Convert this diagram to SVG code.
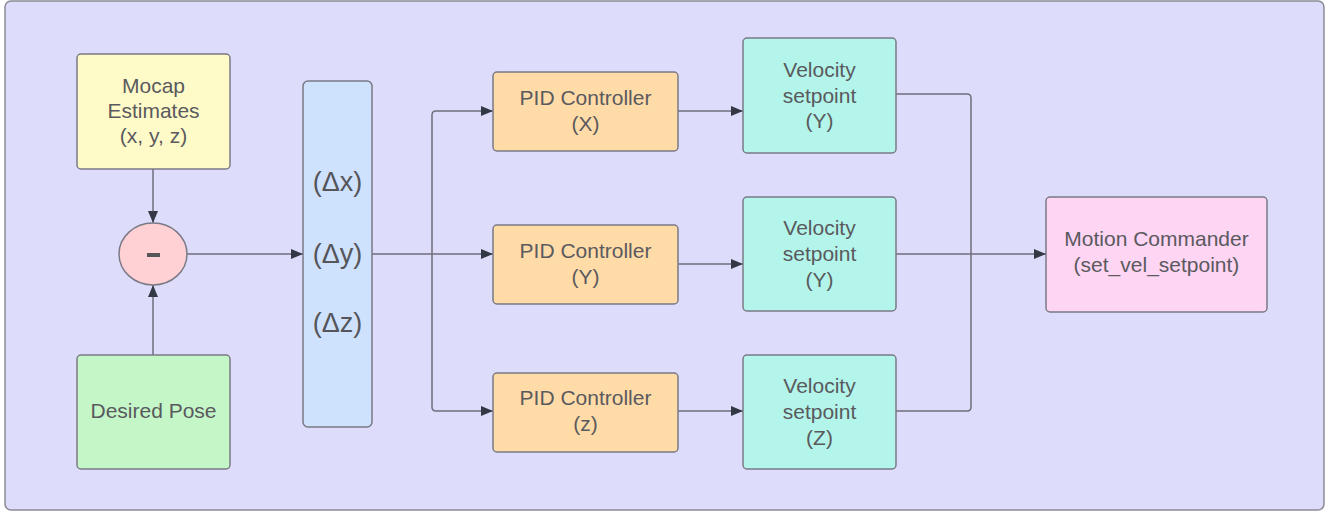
<svg xmlns="http://www.w3.org/2000/svg" width="1330" height="514" viewBox="0 0 1330 514">
  <defs>
    <marker id="arrow" viewBox="0 0 12 10" refX="12" refY="5" markerWidth="12" markerHeight="10" markerUnits="userSpaceOnUse" orient="auto">
      <path d="M0,0 L12,5 L0,10 Z" fill="#333845"/>
    </marker>
    <style>
      .box { stroke: #7a7a86; stroke-width: 1.5; }
      .lbl { font-family: "Liberation Sans", Arial, sans-serif; font-size: 21px; fill: #5a5a5e; text-anchor: middle; dominant-baseline: central; }
      .delta { font-family: "Liberation Sans", Arial, sans-serif; font-size: 27px; fill: #55555a; text-anchor: middle; dominant-baseline: central; }
      .conn { fill: none; stroke: #6e6e7c; stroke-width: 1.5; }
      .conn-a { fill: none; stroke: #6e6e7c; stroke-width: 1.5; marker-end: url(#arrow); }
    </style>
  </defs>

  <!-- background panel -->
  <rect x="5" y="1" width="1319" height="509" rx="6" fill="#dedcfb" stroke="#8a8a96" stroke-width="1.5"/>

  <!-- connectors -->
  <g id="connectors">
    <path class="conn-a" d="M153,169 L153,223"/>
    <path class="conn-a" d="M153,355 L153,285"/>
    <path class="conn-a" d="M187,254 L303,254"/>
    <path class="conn" d="M372,254 L432,254"/>
    <path class="conn-a" d="M432,254 L432,115 Q432,111 436,111 L493,111"/>
    <path class="conn-a" d="M432,254 L493,254"/>
    <path class="conn-a" d="M432,254 L432,407 Q432,411 436,411 L493,411"/>
    <path class="conn-a" d="M678,111 L743,111"/>
    <path class="conn-a" d="M678,264 L743,264"/>
    <path class="conn-a" d="M678,411 L743,411"/>
    <path class="conn" d="M896,94 L967,94 Q971,94 971,98 L971,254"/>
    <path class="conn" d="M896,254 L971,254"/>
    <path class="conn" d="M896,411 L967,411 Q971,411 971,407 L971,254"/>
    <path class="conn-a" d="M971,254 L1046,254"/>
  </g>

  <g id="mocap">
    <rect class="box" x="77" y="54" width="153" height="115" rx="4" fill="#fffbc9"/>
    <text class="lbl" x="153.5" y="85">Mocap</text>
    <text class="lbl" x="153.5" y="110">Estimates</text>
    <text class="lbl" x="153.5" y="135">(x, y, z)</text>
  </g>

  <g id="subtract">
    <ellipse class="box" cx="153" cy="254" rx="34" ry="31" fill="#ffd0d4"/>
    <rect x="147" y="253" width="13" height="4" fill="#55555a"/>
  </g>

  <g id="desired-pose">
    <rect class="box" x="77" y="355" width="153" height="114" rx="4" fill="#c4f6c8"/>
    <text class="lbl" x="153.5" y="410">Desired Pose</text>
  </g>

  <g id="error">
    <rect class="box" x="303" y="81" width="69" height="346" rx="5" fill="#cfe2fd"/>
    <text class="delta" x="337.5" y="182">(Δx)</text>
    <text class="delta" x="337.5" y="254">(Δy)</text>
    <text class="delta" x="337.5" y="323">(Δz)</text>
  </g>

  <g id="pid-x">
    <rect class="box" x="493" y="72" width="185" height="79" rx="4" fill="#ffdba8"/>
    <text class="lbl" x="585.5" y="97">PID Controller</text>
    <text class="lbl" x="585.5" y="123">(X)</text>
  </g>

  <g id="pid-y">
    <rect class="box" x="493" y="225" width="185" height="79" rx="4" fill="#ffdba8"/>
    <text class="lbl" x="585.5" y="250">PID Controller</text>
    <text class="lbl" x="585.5" y="276">(Y)</text>
  </g>

  <g id="pid-z">
    <rect class="box" x="493" y="373" width="185" height="79" rx="4" fill="#ffdba8"/>
    <text class="lbl" x="585.5" y="397">PID Controller</text>
    <text class="lbl" x="585.5" y="423">(z)</text>
  </g>

  <g id="vel-top">
    <rect class="box" x="743" y="38" width="153" height="115" rx="4" fill="#b3f5ea"/>
    <text class="lbl" x="819.5" y="69">Velocity</text>
    <text class="lbl" x="819.5" y="95">setpoint</text>
    <text class="lbl" x="819.5" y="120">(Y)</text>
  </g>

  <g id="vel-mid">
    <rect class="box" x="743" y="197" width="153" height="114" rx="4" fill="#b3f5ea"/>
    <text class="lbl" x="819.5" y="227">Velocity</text>
    <text class="lbl" x="819.5" y="253">setpoint</text>
    <text class="lbl" x="819.5" y="279">(Y)</text>
  </g>

  <g id="vel-bottom">
    <rect class="box" x="743" y="355" width="153" height="114" rx="4" fill="#b3f5ea"/>
    <text class="lbl" x="819.5" y="385">Velocity</text>
    <text class="lbl" x="819.5" y="411">setpoint</text>
    <text class="lbl" x="819.5" y="437">(Z)</text>
  </g>

  <g id="motion-commander">
    <rect class="box" x="1046" y="197" width="221" height="115" rx="4" fill="#ffd5f4"/>
    <text class="lbl" x="1156.5" y="238">Motion Commander</text>
    <text class="lbl" x="1156.5" y="264">(set_vel_setpoint)</text>
  </g>
</svg>
